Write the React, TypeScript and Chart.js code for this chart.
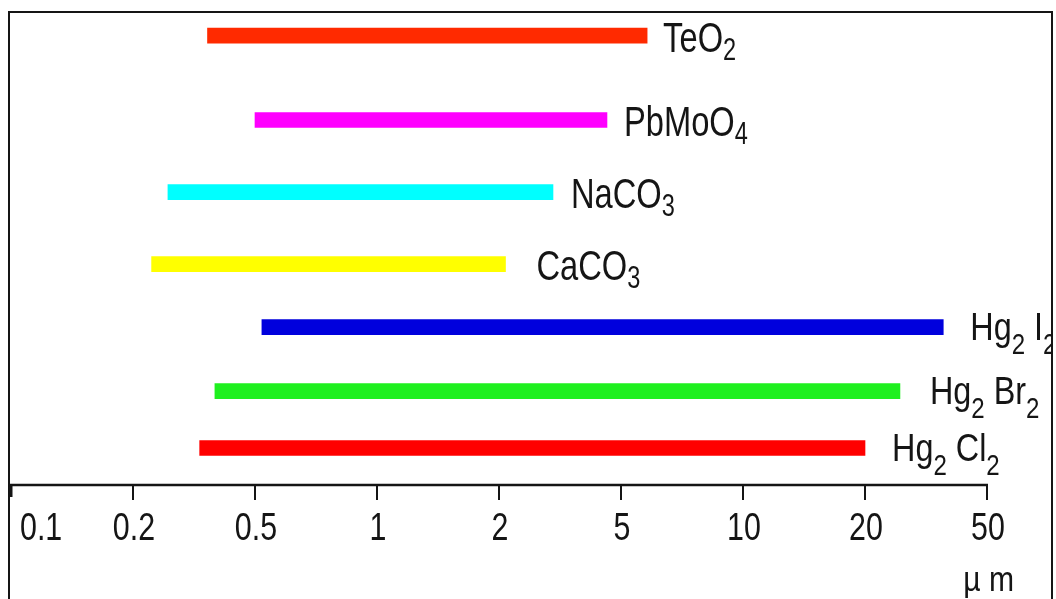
import React, { useEffect, useRef } from "react";
import { Chart, registerables } from "chart.js";

Chart.register(...registerables);

// ---- data ----
const materials = ["TeO2", "PbMoO4", "NaCO3", "CaCO3", "Hg2I2", "Hg2Br2", "Hg2Cl2"];
// label pieces: [text, isSubscript]
const labelParts: [string, boolean][][] = [
  [["TeO", false], ["2", true]],
  [["PbMoO", false], ["4", true]],
  [["NaCO", false], ["3", true]],
  [["CaCO", false], ["3", true]],
  [["Hg", false], ["2", true], [" I", false], ["2", true]],
  [["Hg", false], ["2", true], [" Br", false], ["2", true]],
  [["Hg", false], ["2", true], [" Cl", false], ["2", true]],
];
const rangeStart = [0.35, 0.5, 0.26, 0.23, 0.52, 0.37, 0.33]; // µm
const rangeEnd = [5.8, 4.5, 3.0, 2.1, 36, 26, 20]; // µm
const rowLevel = [0.52, 2.3, 3.82, 5.34, 6.67, 8.02, 9.22];
const barColors = ["#ff2a00", "#ff00ff", "#00ffff", "#ffff00", "#0000dd", "#1ff01f", "#ff0000"];
const tickValues = [0.1, 0.2, 0.5, 1, 2, 5, 10, 20, 50];
const tickLabels = ["0.1", "0.2", "0.5", "1", "2", "5", "10", "20", "50"];
const unitLabel = "\u00b5 m";

// ---- label styling (layout only) ----
const labelGap = [16, 17, 18, 31, 27, 30, 27];
const labelLarge = [true, true, true, true, false, false, false];

// axis: ticks equally spaced, log interpolation between neighbouring ticks
function toAxis(v: number): number {
  for (let i = 0; i < tickValues.length - 1; i++) {
    const a = tickValues[i];
    const b = tickValues[i + 1];
    if (v <= b || i === tickValues.length - 2) {
      return i + Math.log(v / a) / Math.log(b / a);
    }
  }
  return 0;
}

const W = 1056;
const H = 599;
const INK = "#151515";
const FONT = "'Liberation Sans', Arial, Helvetica, sans-serif";

const decorPlugin = {
  id: "decor",
  afterDatasetsDraw(chart: any) {
    const ctx = chart.ctx as CanvasRenderingContext2D;
    const xs = chart.scales.x;
    const ys = chart.scales.y;
    const axisY = chart.chartArea.bottom;
    ctx.save();

    // frame
    ctx.strokeStyle = INK;
    ctx.lineWidth = 2;
    ctx.beginPath();
    ctx.moveTo(9, H);
    ctx.lineTo(9, 12);
    ctx.lineTo(1052, 12);
    ctx.lineTo(1052, H);
    ctx.stroke();

    // axis line
    ctx.lineWidth = 2.5;
    ctx.beginPath();
    ctx.moveTo(9, axisY);
    ctx.lineTo(xs.getPixelForValue(tickValues.length - 1) + 1, axisY);
    ctx.stroke();

    // ticks + labels
    ctx.fillStyle = INK;
    tickValues.forEach((_, i) => {
      const px = xs.getPixelForValue(i);
      ctx.lineWidth = i === 0 ? 4 : 2;
      ctx.beginPath();
      ctx.moveTo(i === 0 ? px - 0.5 : px, axisY);
      ctx.lineTo(i === 0 ? px - 0.5 : px, axisY + (i === 0 ? 12 : 15));
      ctx.stroke();

      ctx.save();
      ctx.font = `38px ${FONT}`;
      ctx.textBaseline = "alphabetic";
      if (i === 0) {
        ctx.textAlign = "left";
        ctx.translate(px + 9, axisY + 55);
      } else {
        ctx.textAlign = "center";
        ctx.translate(px + 1, axisY + 55);
      }
      ctx.scale(0.8, 1);
      ctx.fillText(tickLabels[i], 0, 0);
      ctx.restore();
    });

    // unit label
    ctx.save();
    ctx.font = `35px ${FONT}`;
    ctx.textAlign = "right";
    ctx.translate(1014, 591);
    ctx.scale(0.86, 1);
    ctx.fillText(unitLabel, 0, 0);
    ctx.restore();

    // bar labels (clipped to frame)
    ctx.beginPath();
    ctx.rect(10, 13, 1041, H - 13);
    ctx.clip();
    materials.forEach((_, i) => {
      const big = labelLarge[i];
      const mainSize = big ? 43 : 39;
      const subSize = big ? 31 : 29;
      const subShift = big ? 8 : 14;
      const sx = big ? 0.76 : 0.83;
      let x = xs.getPixelForValue(toAxis(rangeEnd[i])) + labelGap[i];
      const base = ys.getPixelForValue(rowLevel[i]) + (big ? 16 : 13);
      labelParts[i].forEach(([txt, sub]) => {
        ctx.save();
        ctx.font = `${sub ? subSize : mainSize}px ${FONT}`;
        ctx.textAlign = "left";
        ctx.textBaseline = "alphabetic";
        ctx.translate(x, base + (sub ? subShift : 0));
        ctx.scale(sx, 1);
        ctx.fillText(txt, 0, 0);
        const w = ctx.measureText(txt).width * sx;
        ctx.restore();
        x += w;
      });
    });
    ctx.restore();
  },
};

export default function App() {
  const ref = useRef<HTMLCanvasElement | null>(null);

  useEffect(() => {
    if (!ref.current) return;
    const chart = new Chart(ref.current, {
      type: "bar",
      data: {
        labels: materials,
        datasets: [
          {
            data: materials.map((_, i) => ({
              y: rowLevel[i],
              x: [toAxis(rangeStart[i]), toAxis(rangeEnd[i])],
            })) as any,
            backgroundColor: barColors,
            borderWidth: 0,
            barThickness: 15,
          },
        ],
      },
      options: {
        indexAxis: "y",
        responsive: false,
        animation: false,
        events: [],
        layout: { padding: { left: 11, right: W - 987, top: 11, bottom: H - 485 } },
        plugins: { legend: { display: false }, tooltip: { enabled: false } },
        scales: {
          x: { type: "linear", min: 0, max: tickValues.length - 1, display: false, offset: false },
          y: { type: "linear", min: 0, max: 10, reverse: true, display: false, offset: false },
        },
      },
      plugins: [decorPlugin],
    });
    return () => chart.destroy();
  }, []);

  return (
    <div style={{ position: "fixed", left: 0, top: 0, width: W, height: H, background: "#fff" }}>
      <canvas ref={ref} width={W} height={H} style={{ display: "block" }} />
    </div>
  );
}
